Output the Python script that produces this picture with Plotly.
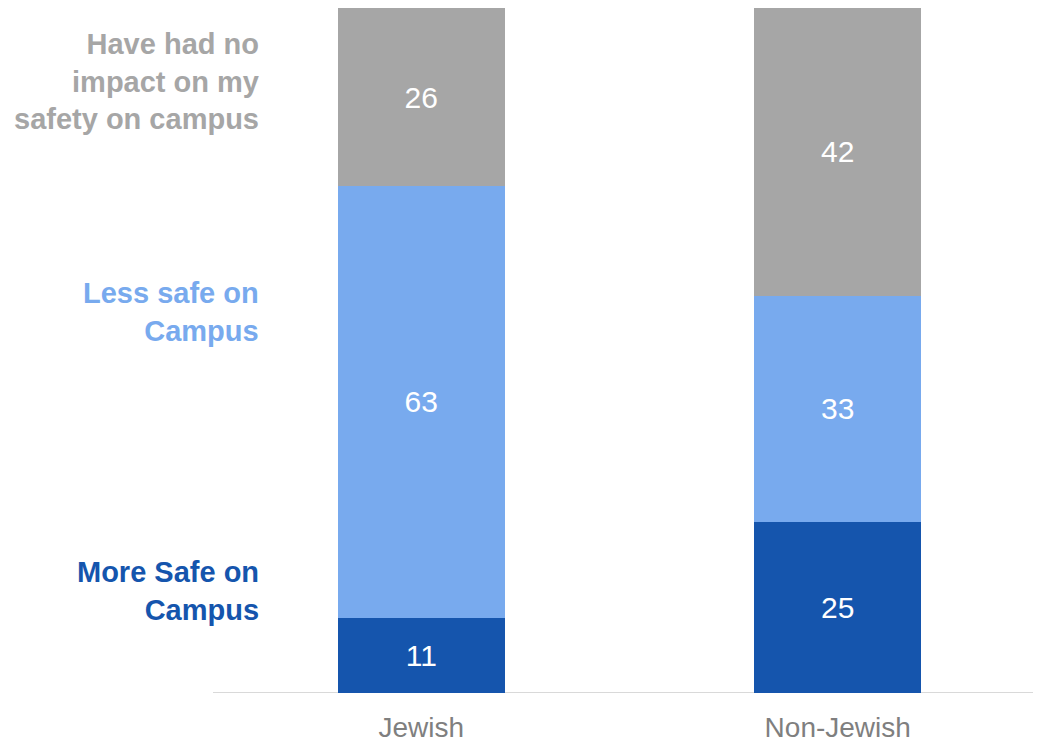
import plotly.graph_objects as go

categories = ["Jewish", "Non-Jewish"]
series_names = ["More Safe on<br>Campus", "Less safe on<br>Campus", "Have had no<br>impact on my<br>safety on campus"]
more_safe = [11, 25]
less_safe = [63, 33]
no_impact = [26, 42]
colors = ["#1555AD", "#78AAEE", "#A6A6A6"]

fig = go.Figure()
for vals, col in zip([more_safe, less_safe, no_impact], colors):
    fig.add_trace(go.Bar(
        x=categories, y=vals, marker=dict(color=col, line=dict(width=0)),
        text=[str(v) for v in vals], textposition="inside", insidetextanchor="middle",
        textfont=dict(color="white", size=30, family="Liberation Sans"),
        showlegend=False, hoverinfo="skip",
    ))

# series labels on the left (paper coords)
label_y = [0.149, 0.556, 0.892]
for name, col, yy in zip(series_names, colors, label_y):
    fig.add_annotation(
        text="<b>" + name + "</b>", xref="paper", yref="paper",
        x=0.0576, y=yy, xanchor="right", yanchor="middle", align="right",
        showarrow=False, font=dict(color=col, size=29, family="Liberation Sans"),
    )

# baseline rule extending to the right edge
fig.add_shape(type="line", xref="paper", yref="y", x0=0, x1=1.02, y0=0, y1=0,
              line=dict(color="#D9D9D9", width=2), layer="below")

fig.update_layout(
    barmode="stack", bargap=0.6,
    width=1041, height=748,
    margin=dict(l=205, r=3, t=0, b=63),
    plot_bgcolor="white", paper_bgcolor="white",
    font=dict(family="Liberation Sans"),
)
fig.update_xaxes(showline=False,
                 tickfont=dict(size=28, color="#7F7F7F", family="Liberation Sans"),
                 ticks="", showgrid=False, zeroline=False, ticklabelstandoff=15)
fig.update_yaxes(range=[0, 100], visible=False, showgrid=False, zeroline=False)

fig.write_html("out.html")
